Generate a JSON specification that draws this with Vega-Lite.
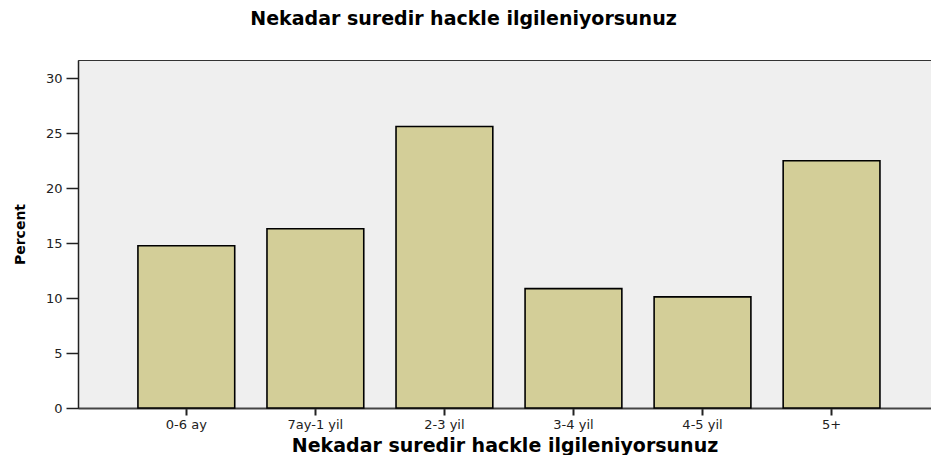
{
  "$schema": "https://vega.github.io/schema/vega-lite/v6.json",
  "autosize": "none",
  "width": 853,
  "height": 348,
  "padding": {"left": 78, "top": 60, "right": 0, "bottom": 47},
  "background": "white",
  "title": {
    "text": "Nekadar suredir hackle ilgileniyorsunuz",
    "font": "DejaVu Sans",
    "fontSize": 19,
    "fontWeight": "bold",
    "color": "#000000",
    "anchor": "middle",
    "dx": -41,
    "baseline": "alphabetic",
    "offset": 16
  },
  "config": {
    "view": {"fill": "#EFEFEF", "stroke": "#333333", "strokeWidth": 1}
  },
  "data": {
    "values": [
      {"category": "0-6 ay", "percent": 14.75},
      {"category": "7ay-1 yil", "percent": 16.3},
      {"category": "2-3 yil", "percent": 25.6},
      {"category": "3-4 yil", "percent": 10.85},
      {"category": "4-5 yil", "percent": 10.1},
      {"category": "5+", "percent": 22.48}
    ]
  },
  "mark": {"type": "bar", "fill": "#D3CE98", "stroke": "#000000", "strokeWidth": 1.6},
  "encoding": {
    "x": {
      "field": "category",
      "type": "nominal",
      "sort": null,
      "scale": {"paddingInner": 0.25, "paddingOuter": 0.43, "align": 0.54},
      "axis": {
        "title": "Nekadar suredir hackle ilgileniyorsunuz",
        "titleFont": "DejaVu Sans",
        "titleFontSize": 19,
        "titleFontWeight": "bold",
        "titleColor": "#000000",
        "titleBaseline": "alphabetic",
        "titleY": 43,
        "labelAngle": 0,
        "labelFont": "DejaVu Sans",
        "labelFontSize": 13,
        "labelColor": "#222222",
        "labelPadding": 3,
        "tickSize": 7,
        "tickWidth": 2,
        "tickColor": "#222222",
        "domainColor": "#444444",
        "domainWidth": 2,
        "grid": false
      }
    },
    "y": {
      "field": "percent",
      "type": "quantitative",
      "scale": {"domain": [0, 31.64], "nice": false, "zero": true},
      "axis": {
        "title": "Percent",
        "titleFont": "DejaVu Sans",
        "titleFontSize": 14,
        "titleFontWeight": "bold",
        "titleColor": "#000000",
        "titleX": -58,
        "titleY": 174,
        "titleAlign": "center",
        "titleBaseline": "middle",
        "values": [0, 5, 10, 15, 20, 25, 30],
        "labelFont": "DejaVu Sans",
        "labelFontSize": 13,
        "labelColor": "#222222",
        "labelPadding": 4,
        "tickSize": 12,
        "tickWidth": 1.5,
        "tickColor": "#222222",
        "domainColor": "#222222",
        "domainWidth": 1.5,
        "grid": false
      }
    }
  }
}
